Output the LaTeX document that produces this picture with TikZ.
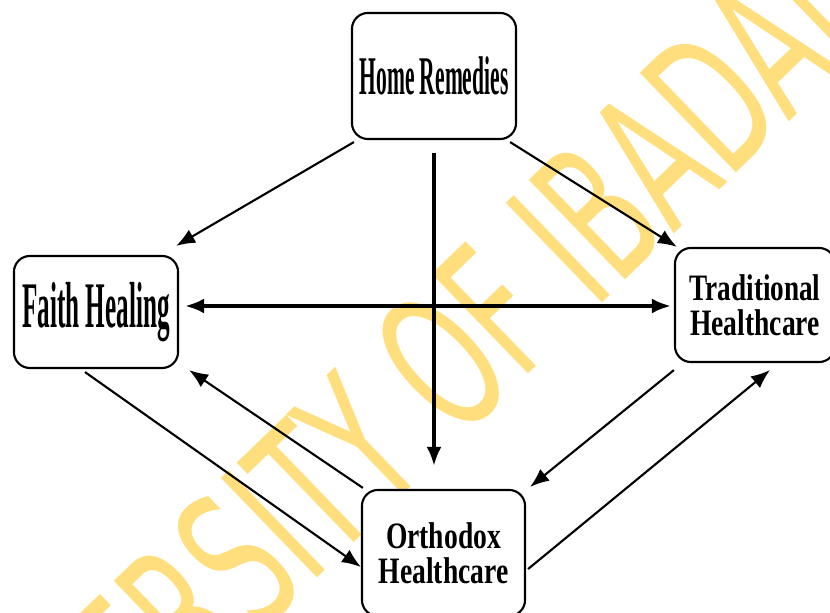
\documentclass[tikz,border=0pt]{standalone}
\usepackage{fontspec}
\setmainfont{Liberation Serif}
\newfontfamily\wmfont{DejaVu Sans}
\usepackage{graphicx}
\usetikzlibrary{arrows.meta}
\usetikzlibrary{calc}
\definecolor{wmyellow}{RGB}{255,222,125}
\newcommand{\narrow}[2]{\scalebox{#1}[1]{#2}}
\tikzset{box/.style={draw,line width=0.6pt,rounded corners=1.6mm,fill=white,inner sep=0pt,align=center}}
\tikzset{big/.style={font=\bfseries\fontsize{15.5}{15.5}\selectfont}}
\tikzset{huge/.style={font=\bfseries\fontsize{18.5}{18.5}\selectfont}}
\tikzset{two/.style={font=\bfseries\fontsize{10.6}{10}\selectfont}}
\tikzset{link/.style={line width=0.6pt,-{Latex[length=1.9mm,width=1.5mm]}}}
\tikzset{both/.style={line width=1pt,{Latex[length=1.9mm,width=1.5mm]}-{Latex[length=1.9mm,width=1.5mm]}}}
\tikzset{wmark/.style={text=wmyellow,rotate=44,inner sep=0pt,font=\wmfont\fontsize{54}{54}\selectfont}}

\begin{document}
\begin{tikzpicture}[x=0.01cm,y=-0.01cm]
            \useasboundingbox (0,0) rectangle (830,613);
            \clip (0,0) rectangle (830,613);
            \node[wmark,anchor=base east] (W1) at (567.6,336) {\narrow{0.59}{UNIVERSITY OF}};
            \node[wmark,anchor=base west] (W2) at (593.5,311) {\narrow{0.59}{IBADAN LIBRARY}};
            \node[box,big,minimum width=1.64cm,minimum height=1.26cm] (HR) at (434,76) {\narrow{0.395}{Home Remedies}};
            \node[box,huge,minimum width=1.64cm,minimum height=1.12cm] (FH) at (96,312) {\narrow{0.387}{Faith Healing}};
            \node[box,two,minimum width=1.60cm,minimum height=1.14cm] (TH) at (755,305) {\narrow{0.73}{Traditional}\\\narrow{0.74}{Healthcare}};
            \node[box,two,minimum width=1.63cm,minimum height=1.26cm] (OH) at (443.5,553) {\narrow{0.74}{Orthodox}\\\narrow{0.74}{Healthcare}};
            \draw[link] ($(HR.south west)+(3,2)$) -- ($(FH.north east)+(-3,-9)$);
            \draw[link,line width=1pt] ($(HR.south)+(0,13)$) -- ($(HR.south |- OH.north)+(0,-23)$);
            \draw[link] ($(HR.south east)+(-7,2)$) -- ($(TH.north west)+(3,0)$);
            \draw[both] ($(FH.east)+(6,-6)$) -- ($(TH.west)+(-3,1)$);
            \draw[link] ($(FH.south)+(-11,3)$) -- ($(OH.west)+(0,14)$);
            \draw[link] ($(OH.north west)+(2,-1)$) -- ($(FH.south east)+(10,1)$);
            \draw[link] ($(TH.south west)+(0,7)$) -- ($(OH.north east)+(4,-2)$);
            \draw[link] ($(OH.east)+(2,16)$) -- ($(TH.south)+(15,7)$);
          \end{tikzpicture}
\end{document}
